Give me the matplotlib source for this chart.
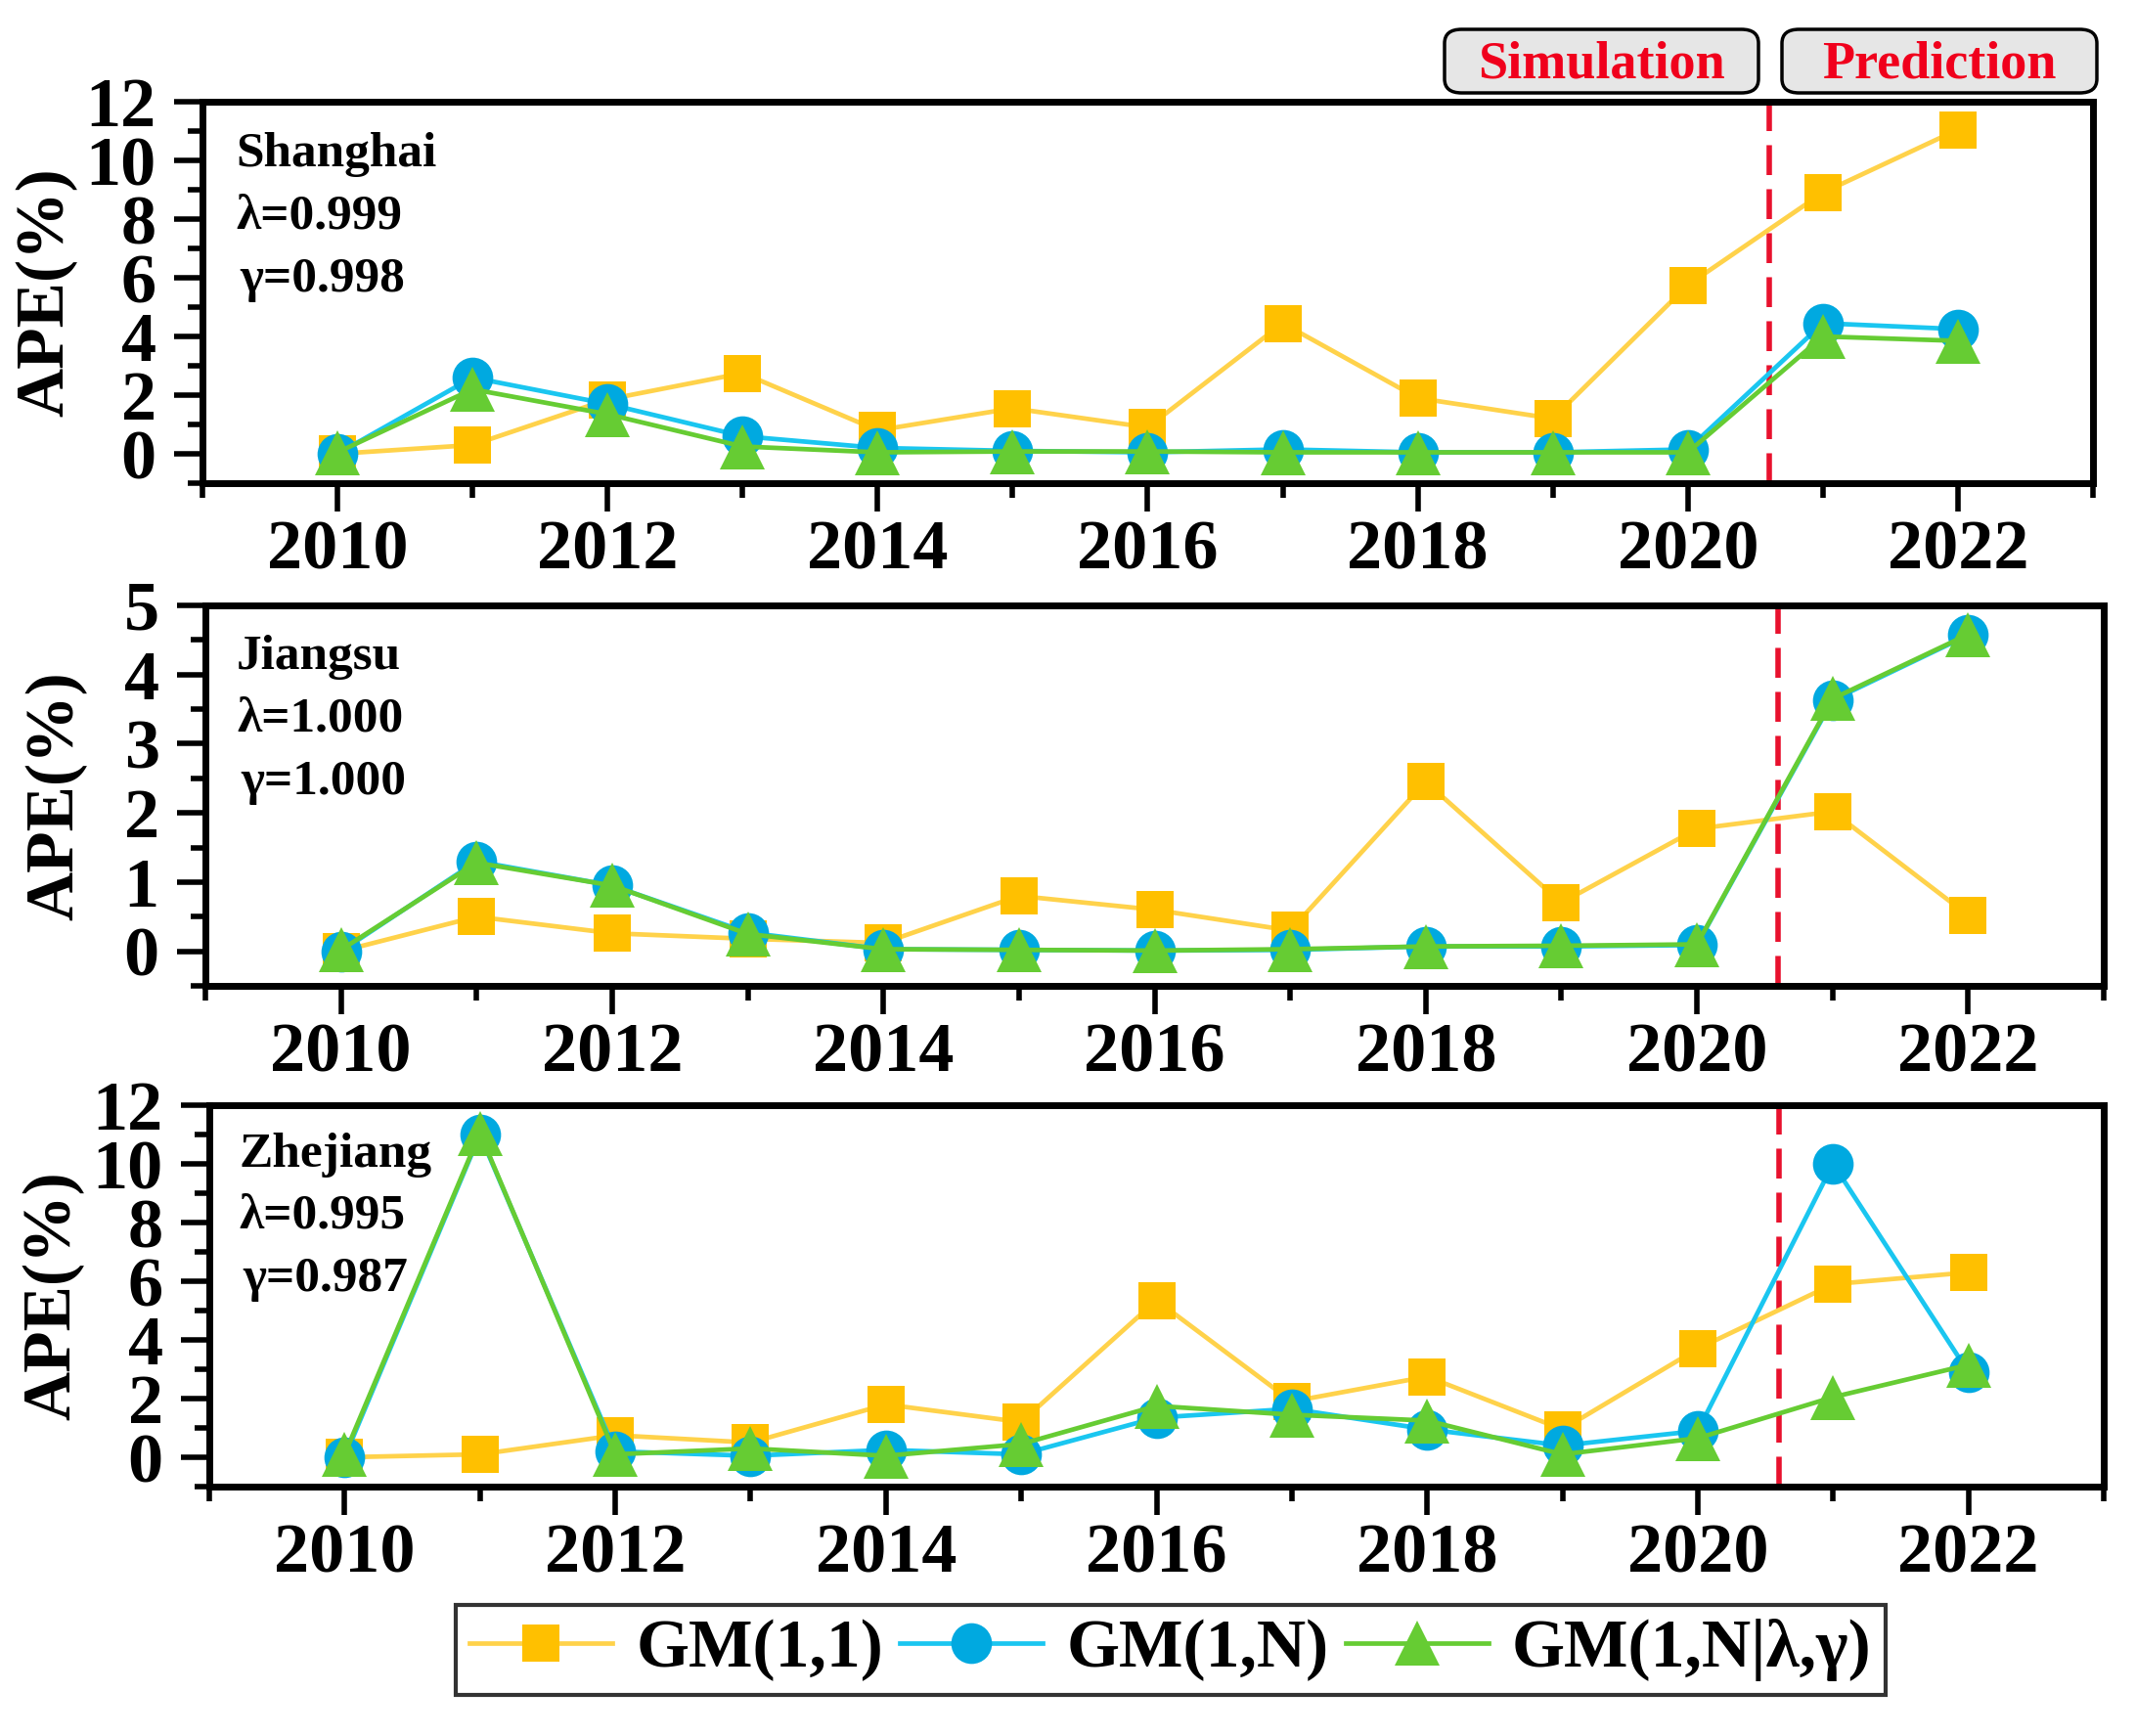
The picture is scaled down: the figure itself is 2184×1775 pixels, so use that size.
import matplotlib
matplotlib.use('Agg')
import matplotlib.pyplot as plt
from matplotlib.ticker import MultipleLocator
from matplotlib.patches import FancyBboxPatch

# ---------------- data ----------------
years = [2010, 2011, 2012, 2013, 2014, 2015, 2016, 2017, 2018, 2019, 2020, 2021, 2022]
year_ticks = [2010, 2012, 2014, 2016, 2018, 2020, 2022]

series_names = ['GM(1,1)', 'GM(1,N)', 'GM(1,N|λ,γ)']

sh_gm11 = [0.0, 0.3, 1.85, 2.75, 0.8, 1.55, 0.9, 4.45, 1.9, 1.2, 5.75, 8.9, 11.05]
sh_gm1n = [0.0, 2.6, 1.7, 0.6, 0.2, 0.1, 0.05, 0.15, 0.05, 0.05, 0.15, 4.45, 4.25]
sh_lg = [0.05, 2.2, 1.35, 0.25, 0.05, 0.08, 0.08, 0.05, 0.05, 0.05, 0.05, 4.0, 3.85]

js_gm11 = [0.0, 0.5, 0.26, 0.18, 0.12, 0.8, 0.6, 0.3, 2.45, 0.7, 1.77, 2.02, 0.52]
js_gm1n = [0.0, 1.3, 0.95, 0.27, 0.03, 0.02, 0.01, 0.02, 0.07, 0.07, 0.09, 3.63, 4.57]
js_lg = [0.02, 1.28, 0.95, 0.25, 0.03, 0.02, 0.01, 0.03, 0.07, 0.08, 0.1, 3.65, 4.58]

zj_gm11 = [0.0, 0.1, 0.75, 0.5, 1.8, 1.2, 5.35, 1.9, 2.75, 0.95, 3.7, 5.9, 6.3]
zj_gm1n = [0.0, 11.0, 0.2, 0.05, 0.25, 0.1, 1.35, 1.65, 0.95, 0.4, 0.9, 10.0, 2.9]
zj_lg = [0.1, 11.05, 0.1, 0.3, 0.05, 0.45, 1.75, 1.45, 1.25, 0.1, 0.65, 2.05, 3.15]

regions = ['Shanghai', 'Jiangsu', 'Zhejiang']
lambdas = ['λ=0.999', 'λ=1.000', 'λ=0.995']
gammas = ['γ=0.998', 'γ=1.000', 'γ=0.987']
split_year = 2020.6

# ---------------- style ----------------
plt.rcParams['font.family'] = ['Liberation Serif', 'DejaVu Serif']
plt.rcParams['font.weight'] = 'bold'

W, H = 2184, 1775
fig = plt.figure(figsize=(W / 100, H / 100), dpi=100)

styles = [
    dict(color='#FFD24A', marker='s', ms=27, mfc='#FFC000', mec='#FFC000', mew=0, lw=3.4),
    dict(color='#1AC6F0', marker='o', ms=30, mfc='#00A9E0', mec='#00A9E0', mew=0, lw=3.4),
    dict(color='#66CC33', marker='^', ms=33, mfc='#66CC33', mec='#66CC33', mew=0, lw=3.4),
]

# axes rectangles in pixels (left, top, right, bottom)
rects = [(207, 104, 2140, 494), (210, 619, 2151, 1008), (214, 1130, 2151, 1520)]
ylims = [(-1, 12), (-0.5, 5), (-1, 12)]
ymajor = [2, 1, 2]
yminor = [1, 0.5, 1]
label_x = [-0.066, -0.062, -0.066]
text_y = [(0.831, 0.669, 0.503), (0.833, 0.670, 0.504), (0.839, 0.679, 0.514)]
text_x = [0.018, 0.0165, 0.0155]

data = [(sh_gm11, sh_gm1n, sh_lg), (js_gm11, js_gm1n, js_lg), (zj_gm11, zj_gm1n, zj_lg)]

handles = []
for i, (l, t, r, b) in enumerate(rects):
    ax = fig.add_axes([l / W, 1 - b / H, (r - l) / W, (b - t) / H])
    lines = []
    for vals, st in zip(data[i], styles):
        ln, = ax.plot(years, vals, **st, clip_on=False, zorder=3)
        lines.append(ln)
    if i == 0:
        handles = lines
    ax.axvline(split_year, color='#E8112D', lw=4, dashes=(5.5, 2.6), zorder=2)
    ax.set_xlim(2009, 2023)
    ax.set_ylim(*ylims[i])
    ax.set_xticks(year_ticks)
    ax.set_xticklabels([str(y) for y in year_ticks])
    ax.xaxis.set_minor_locator(MultipleLocator(1))
    ax.yaxis.set_major_locator(MultipleLocator(ymajor[i]))
    ax.yaxis.set_minor_locator(MultipleLocator(yminor[i]))
    ax.tick_params(axis='both', which='major', direction='out', length=21, width=4,
                   labelsize=52)
    ax.tick_params(axis='both', which='minor', direction='out', length=11, width=4)
    ax.tick_params(axis='x', which='major', pad=6)
    ax.tick_params(axis='y', which='major', pad=13)
    for lab in ax.get_xticklabels() + ax.get_yticklabels():
        lab.set_fontweight('bold')
    for sp in ax.spines.values():
        sp.set_linewidth(5)
    ax.set_ylabel('APE(%)', fontsize=50, fontweight='bold')
    ax.yaxis.set_label_coords(label_x[i], 0.5)
    ty = text_y[i]
    ax.text(text_x[i], ty[0], regions[i], transform=ax.transAxes, fontsize=37,
            fontweight='bold', va='baseline', ha='left')
    ax.text(text_x[i], ty[1], lambdas[i], transform=ax.transAxes, fontsize=37,
            fontweight='bold', va='baseline', ha='left')
    ax.text(text_x[i] + 0.002, ty[2], gammas[i], transform=ax.transAxes, fontsize=37,
            fontweight='bold', va='baseline', ha='left')

# Simulation / Prediction boxes
box_specs = [('Simulation', 1477, 1798), ('Prediction', 1822, 2144)]
for label, x0, x1 in box_specs:
    y0, y1 = 30, 95
    patch = FancyBboxPatch((x0 / W, 1 - y1 / H), (x1 - x0) / W, (y1 - y0) / H,
                           boxstyle='round,pad=0,rounding_size=0.008',
                           transform=fig.transFigure, fc='#E6E6E6', ec='black',
                           lw=2.5, zorder=5)
    fig.patches.append(patch)
    fig.text((x0 + x1) / 2 / W, 1 - (y0 + y1) / 2 / H - 0.002, label, color='#F0001C',
             fontsize=39, fontweight='bold', ha='center', va='center', zorder=6)

leg = fig.legend(handles, series_names, loc='center', bbox_to_anchor=(0.548, 0.0496),
                 ncol=3, frameon=True, fancybox=False, edgecolor='black',
                 prop=dict(family=['Liberation Serif', 'DejaVu Serif'], weight='bold', size=50),
                 handlelength=2.1, handletextpad=0.35, columnspacing=0.25,
                 borderpad=0.2, borderaxespad=0, numpoints=1)
leg.get_frame().set_linewidth(3)

fig.savefig('out.png', dpi=100, facecolor='white')
